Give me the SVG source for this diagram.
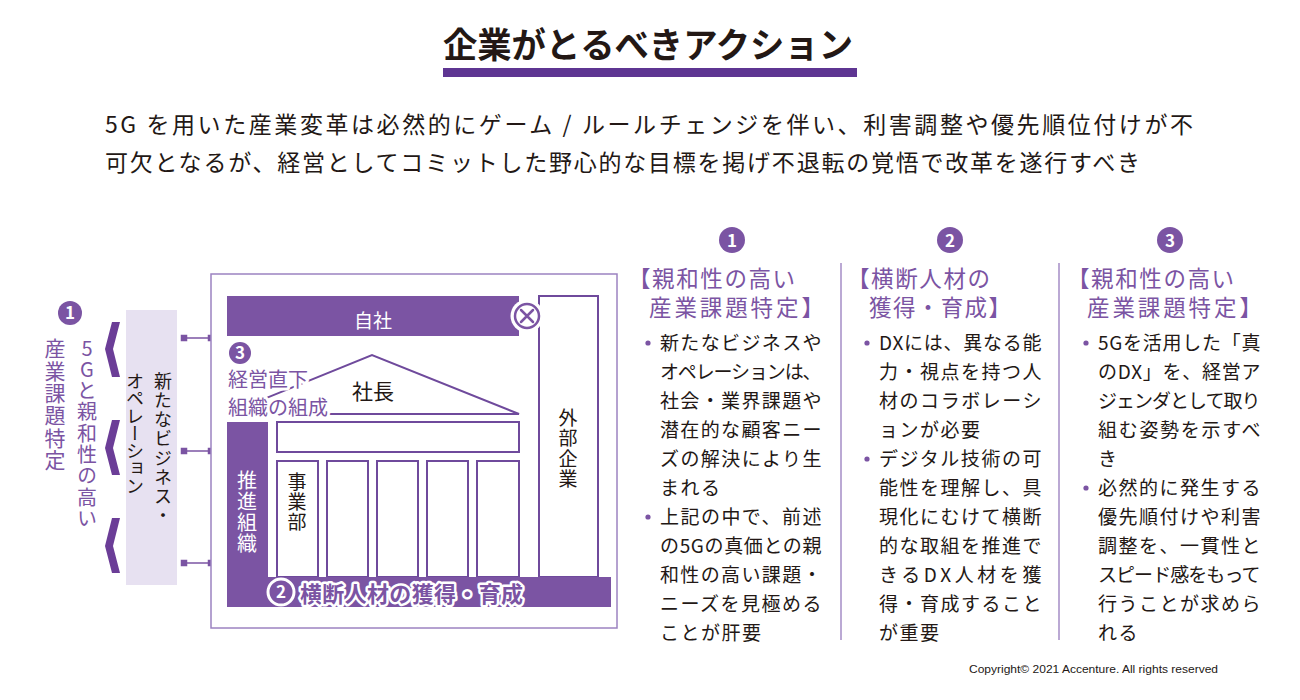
<svg xmlns="http://www.w3.org/2000/svg" width="1300" height="700" viewBox="0 0 1300 700">
<style>
text{font-family:"Noto Sans CJK JP","Noto Sans",sans-serif;}
.body{font-size:19px;fill:#231815;letter-spacing:1.5px;}
.intro{font-size:23px;fill:#231815;}
.head{font-size:22.5px;fill:#7b54a3;}
.pl{stroke:#6f4a9c;stroke-width:2;fill:#fff;}
.pf{fill:#7b54a3;}
.num{font-size:17px;font-weight:bold;fill:#fff;text-anchor:middle;}
.v{writing-mode:vertical-rl;}
.vu{writing-mode:vertical-rl;text-orientation:upright;}
.dot{fill:#7b54a3;}
.halo{paint-order:stroke;stroke:#fff;stroke-linejoin:round;}
</style>
<defs>
<rect id="sq" x="-2.5" y="-2.5" width="5" height="5" fill="#7b54a3"/>
</defs>

<!-- title -->
<g id="title">
<text x="443" y="58" font-size="35" font-weight="bold" fill="#231815" textLength="410" lengthAdjust="spacingAndGlyphs">企業がとるべきアクション</text>
<rect x="443" y="68" width="414" height="9" fill="#5e3592"/>
</g>

<g id="intro">
<text class="intro" x="105" y="133" textLength="1088" lengthAdjust="spacing">5G を用いた産業変革は必然的にゲーム / ルールチェンジを伴い、利害調整や優先順位付けが不</text>
<text class="intro" x="105" y="171" textLength="1035" lengthAdjust="spacing">可欠となるが、経営としてコミットした野心的な目標を掲げ不退転の覚悟で改革を遂行すべき</text>
</g>

<!-- left labels -->
<g id="left-label">
<circle cx="70" cy="313" r="12" class="pf"/>
<text x="70" y="319" class="num">1</text>
<text x="87" y="338" class="vu" font-size="20" fill="#7b54a3" letter-spacing="1.3">5Gと親和性の高い</text>
<text x="55" y="338" class="v" font-size="21" fill="#7b54a3" letter-spacing="1.3">産業課題特定</text>
</g>
<g id="chevrons" fill="#6b3d97">
<polygon points="112,322 120,322 113,349 120,377 112,377 105,349"/>
<polygon points="112,420 120,420 113,448 120,475 112,475 105,448"/>
<polygon points="112,518 120,518 113,546 120,573 112,573 105,546"/>
</g>
<g id="new-business">
<rect x="126" y="310" width="51" height="275" fill="#e7e1f1"/>
<text x="163" y="372" class="v" font-size="18" fill="#231815" letter-spacing="1.2">新たなビジネス・</text>
<text x="135" y="372" class="v" font-size="18" fill="#231815" letter-spacing="-0.5">オペレーション</text>
</g>

<g id="connectors" stroke="#7b54a3" stroke-width="1.5">
<line x1="184" y1="338" x2="211" y2="338"/>
<line x1="184" y1="451" x2="211" y2="451"/>
<line x1="184" y1="563" x2="211" y2="563"/>
<use href="#sq" x="184" y="338"/><use href="#sq" x="211" y="338"/>
<use href="#sq" x="184" y="451"/><use href="#sq" x="211" y="451"/>
<use href="#sq" x="184" y="563"/><use href="#sq" x="211" y="563"/>
</g>

<!-- company frame -->
<g id="frame">
<rect x="211" y="274" width="406" height="354" fill="#fff" stroke="#9c83c1" stroke-width="1.5"/>
</g>
<g id="jisha">
<rect x="227" y="296" width="292" height="40" class="pf"/>
<text x="373" y="328" font-size="19" fill="#fff" text-anchor="middle">自社</text>
</g>
<g id="gaibu">
<rect x="539" y="296" width="59" height="281" class="pl"/>
<text x="568" y="408" class="v" font-size="19" fill="#231815" letter-spacing="1.5">外部企業</text>
</g>
<g id="cross">
<circle cx="527" cy="316" r="16.5" fill="#fff"/>
<circle cx="527" cy="316" r="12" fill="#fff" stroke="#7b54a3" stroke-width="2.5"/>
<path d="M521,310 L533,322 M533,310 L521,322" stroke="#7b54a3" stroke-width="2.5" stroke-linecap="round"/>
</g>
<g id="roof">
<polyline points="227,414 372,355 519,414 227,414" fill="none" stroke="#6f4a9c" stroke-width="2"/>
<text x="373" y="399" font-size="21" fill="#231815" text-anchor="middle">社長</text>
</g>
<g id="beam">
<rect x="277" y="422" width="242" height="30" class="pl"/>
</g>
<g id="columns">
<rect x="277" y="461" width="41" height="116" class="pl"/>
<rect x="327" y="461" width="41" height="116" class="pl"/>
<rect x="377" y="461" width="41" height="116" class="pl"/>
<rect x="427" y="461" width="41" height="116" class="pl"/>
<rect x="477" y="461" width="42" height="116" class="pl"/>
<text x="297" y="472" class="v" font-size="19" fill="#231815" letter-spacing="1">事業部</text>
</g>
<g id="suishin">
<rect x="227" y="422" width="41" height="185" class="pf"/>
<text x="247" y="470" class="v" font-size="20" fill="#fff" letter-spacing="1">推進組織</text>
</g>
<g id="base">
<rect x="227" y="577" width="384" height="30" class="pf"/>
<circle cx="281" cy="592" r="13" class="pf" stroke="#fff" stroke-width="3"/>
<text x="281" y="598" class="num">2</text>
<text x="300" y="602" font-size="22" font-weight="bold" fill="#7b54a3" class="halo" stroke-width="5" textLength="223" lengthAdjust="spacing">横断人材の獲得・育成</text>
</g>
<g id="keiei">
<circle cx="240" cy="353" r="11" class="pf"/>
<text x="240" y="358.5" class="num" font-size="15">3</text>
<text x="228" y="387" font-size="20" fill="#7b54a3" class="halo" stroke-width="6">経営直下</text>
<text x="228" y="415" font-size="20" fill="#7b54a3" class="halo" stroke-width="6">組織の組成</text>
</g>

<!-- dividers -->
<g id="dividers" stroke="#a58dc6" stroke-width="1.5">
<line x1="841" y1="263" x2="841" y2="640"/>
<line x1="1059" y1="263" x2="1059" y2="640"/>
</g>

<!-- column 1 -->
<g id="col1">
<circle cx="732" cy="240" r="13" class="pf"/>
<text x="732" y="246.5" class="num">1</text>
<text class="head" x="628" y="287" letter-spacing="1.6">【親和性の高い</text>
<text class="head" x="649" y="316" letter-spacing="2.9">産業課題特定】</text>
<circle cx="648" cy="343" r="2.6" class="dot"/>
<circle cx="648" cy="517" r="2.6" class="dot"/>
<text class="body" x="660" y="350" textLength="163" lengthAdjust="spacing">新たなビジネスや</text>
<text class="body" x="660" y="379" textLength="163" lengthAdjust="spacing">オペレーションは、</text>
<text class="body" x="660" y="408" textLength="163" lengthAdjust="spacing">社会・業界課題や</text>
<text class="body" x="660" y="437" textLength="163" lengthAdjust="spacing">潜在的な顧客ニー</text>
<text class="body" x="660" y="466" textLength="163" lengthAdjust="spacing">ズの解決により生</text>
<text class="body" x="660" y="495">まれる</text>
<text class="body" x="660" y="524" textLength="163" lengthAdjust="spacing">上記の中で、前述</text>
<text class="body" x="660" y="553" textLength="163" lengthAdjust="spacing">の5Gの真価との親</text>
<text class="body" x="660" y="582" textLength="163" lengthAdjust="spacing">和性の高い課題・</text>
<text class="body" x="660" y="611" textLength="163" lengthAdjust="spacing">ニーズを見極める</text>
<text class="body" x="660" y="640">ことが肝要</text>
</g>

<!-- column 2 -->
<g id="col2">
<circle cx="950" cy="240" r="13" class="pf"/>
<text x="950" y="246.5" class="num">2</text>
<text class="head" x="847" y="287" letter-spacing="1.6">【横断人材の</text>
<text class="head" x="869" y="316" letter-spacing="1.4">獲得・育成】</text>
<circle cx="867" cy="343" r="2.6" class="dot"/>
<circle cx="867" cy="459" r="2.6" class="dot"/>
<text class="body" x="879" y="350" textLength="164" lengthAdjust="spacing">DXには、異なる能</text>
<text class="body" x="879" y="379" textLength="164" lengthAdjust="spacing">力・視点を持つ人</text>
<text class="body" x="879" y="408" textLength="164" lengthAdjust="spacing">材のコラボレーシ</text>
<text class="body" x="879" y="437">ョンが必要</text>
<text class="body" x="879" y="466" textLength="164" lengthAdjust="spacing">デジタル技術の可</text>
<text class="body" x="879" y="495" textLength="164" lengthAdjust="spacing">能性を理解し、具</text>
<text class="body" x="879" y="524" textLength="164" lengthAdjust="spacing">現化にむけて横断</text>
<text class="body" x="879" y="553" textLength="164" lengthAdjust="spacing">的な取組を推進で</text>
<text class="body" x="879" y="582" textLength="164" lengthAdjust="spacing">きるDX人材を獲</text>
<text class="body" x="879" y="611" textLength="164" lengthAdjust="spacing">得・育成すること</text>
<text class="body" x="879" y="640">が重要</text>
</g>

<!-- column 3 -->
<g id="col3">
<circle cx="1170" cy="240" r="13" class="pf"/>
<text x="1170" y="246.5" class="num">3</text>
<text class="head" x="1067" y="287" letter-spacing="1.6">【親和性の高い</text>
<text class="head" x="1087" y="316" letter-spacing="2.9">産業課題特定】</text>
<circle cx="1086" cy="343" r="2.6" class="dot"/>
<circle cx="1086" cy="488" r="2.6" class="dot"/>
<text class="body" x="1098" y="350" textLength="164" lengthAdjust="spacing">5Gを活用した「真</text>
<text class="body" x="1098" y="379" textLength="164" lengthAdjust="spacing">のDX」を、経営ア</text>
<text class="body" x="1098" y="408" textLength="164" lengthAdjust="spacing">ジェンダとして取り</text>
<text class="body" x="1098" y="437" textLength="164" lengthAdjust="spacing">組む姿勢を示すべ</text>
<text class="body" x="1098" y="466">き</text>
<text class="body" x="1098" y="495" textLength="164" lengthAdjust="spacing">必然的に発生する</text>
<text class="body" x="1098" y="524" textLength="164" lengthAdjust="spacing">優先順付けや利害</text>
<text class="body" x="1098" y="553" textLength="164" lengthAdjust="spacing">調整を、一貫性と</text>
<text class="body" x="1098" y="582" textLength="164" lengthAdjust="spacing">スピード感をもって</text>
<text class="body" x="1098" y="611" textLength="164" lengthAdjust="spacing">行うことが求めら</text>
<text class="body" x="1098" y="640">れる</text>
</g>

<text x="969" y="673" style="font-family:'Liberation Sans',Arial,sans-serif" font-size="11.5" fill="#231815" textLength="249" lengthAdjust="spacingAndGlyphs">Copyright© 2021 Accenture. All rights reserved</text>
</svg>
